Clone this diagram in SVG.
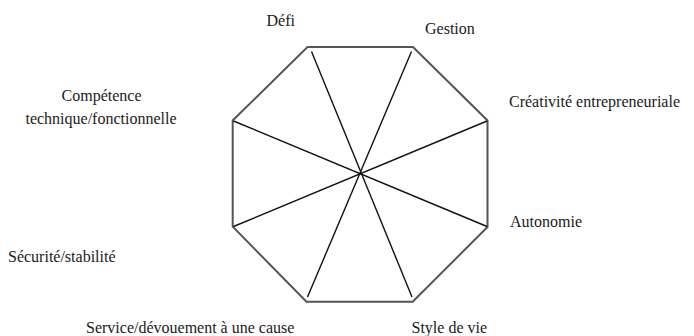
<svg xmlns="http://www.w3.org/2000/svg" width="694" height="336" viewBox="0 0 694 336">
<style>
.lbl{font-family:'Liberation Serif','DejaVu Serif',serif;font-size:16px;fill:#1a1a1a}
.oct{fill:none;stroke:#555;stroke-width:2;stroke-linejoin:miter}
.spoke{stroke:#111;stroke-width:1.4;fill:none}
</style>
<rect width="694" height="336" fill="#fff"/>
<g id="octagon">
<polygon class="oct" points="307.5,47 413,47 487.5,120.5 487.5,227 412.7,301.7 306.5,301.7 232.7,226.7 232.7,120.5"/>
</g>
<g id="connectors">
<line class="spoke" x1="311.5" y1="51.5" x2="412" y2="297"/>
<line class="spoke" x1="411.5" y1="51.5" x2="307.5" y2="297"/>
<line class="spoke" x1="233.5" y1="121" x2="487" y2="226.5"/>
<line class="spoke" x1="487" y1="121" x2="233.5" y2="226.5"/>
</g>
<g id="defi"><text class="lbl" x="266.5" y="25.5">Défi</text></g>
<g id="gestion"><text class="lbl" x="425" y="33.5">Gestion</text></g>
<g id="competence"><text class="lbl" x="101.5" y="101" text-anchor="middle">Compétence</text><text class="lbl" x="101" y="124" text-anchor="middle">technique/fonctionnelle</text></g>
<g id="creativite"><text class="lbl" x="509" y="106.5">Créativité entrepreneuriale</text></g>
<g id="autonomie"><text class="lbl" x="510" y="226.5">Autonomie</text></g>
<g id="securite"><text class="lbl" x="8" y="261.5">Sécurité/stabilité</text></g>
<g id="service"><text class="lbl" x="86" y="333">Service/dévouement à une cause</text></g>
<g id="style"><text class="lbl" x="411.5" y="333">Style de vie</text></g>
</svg>
